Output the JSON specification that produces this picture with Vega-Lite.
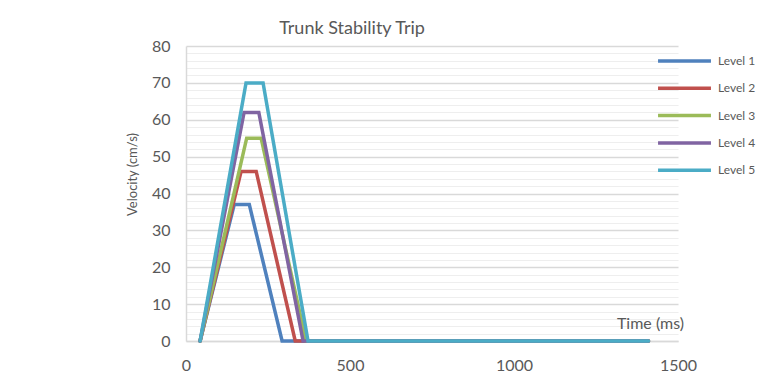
{
  "$schema": "https://vega.github.io/schema/vega-lite/v6.json",
  "autosize": {"type": "none"},
  "padding": {"left": 186, "top": 46, "right": 93, "bottom": 45},
  "width": 492,
  "height": 295,
  "background": "white",
  "title": {
    "text": "Trunk Stability Trip",
    "anchor": "middle",
    "dx": -80,
    "offset": 0,
    "font": "Lato",
    "fontSize": 18,
    "fontWeight": "normal",
    "color": "#595959"
  },
  "data": {
    "values": [
      {"level": "Level 1", "t": 43, "v": 0},
      {"level": "Level 1", "t": 147, "v": 37},
      {"level": "Level 1", "t": 193, "v": 37},
      {"level": "Level 1", "t": 293, "v": 0},
      {"level": "Level 1", "t": 1410, "v": 0},
      {"level": "Level 2", "t": 43, "v": 0},
      {"level": "Level 2", "t": 168, "v": 46},
      {"level": "Level 2", "t": 214, "v": 46},
      {"level": "Level 2", "t": 333, "v": 0},
      {"level": "Level 2", "t": 1410, "v": 0},
      {"level": "Level 3", "t": 43, "v": 0},
      {"level": "Level 3", "t": 185, "v": 55},
      {"level": "Level 3", "t": 229, "v": 55},
      {"level": "Level 3", "t": 366, "v": 0},
      {"level": "Level 3", "t": 1410, "v": 0},
      {"level": "Level 4", "t": 43, "v": 0},
      {"level": "Level 4", "t": 177, "v": 62},
      {"level": "Level 4", "t": 222, "v": 62},
      {"level": "Level 4", "t": 357, "v": 0},
      {"level": "Level 4", "t": 1410, "v": 0},
      {"level": "Level 5", "t": 43, "v": 0},
      {"level": "Level 5", "t": 183, "v": 70},
      {"level": "Level 5", "t": 235, "v": 70},
      {"level": "Level 5", "t": 372, "v": 0},
      {"level": "Level 5", "t": 1410, "v": 0}
    ]
  },
  "mark": {"type": "line", "strokeWidth": 3.5, "strokeJoin": "miter", "strokeCap": "round"},
  "encoding": {
    "x": {
      "field": "t",
      "type": "quantitative",
      "scale": {"domain": [0, 1500], "nice": false},
      "axis": {
        "values": [0, 500, 1000, 1500],
        "format": "d",
        "title": "Time (ms)",
        "titleX": 464,
        "titleY": -18,
        "titleAlign": "center",
        "titleBaseline": "middle",
        "titleFont": "Lato",
        "titleFontSize": 16,
        "titleFontWeight": "normal",
        "titleColor": "#595959",
        "grid": false,
        "ticks": false,
        "domain": true,
        "domainColor": "#d9d9d9",
        "domainWidth": 1.5,
        "labelFont": "Lato",
        "labelFontSize": 16,
        "labelColor": "#595959",
        "labelPadding": 16,
        "labelFlush": false
      }
    },
    "y": {
      "field": "v",
      "type": "quantitative",
      "scale": {"domain": [0, 80], "nice": false},
      "axis": {
        "values": [0, 2, 4, 6, 8, 10, 12, 14, 16, 18, 20, 22, 24, 26, 28, 30, 32, 34, 36, 38, 40, 42, 44, 46, 48, 50, 52, 54, 56, 58, 60, 62, 64, 66, 68, 70, 72, 74, 76, 78, 80],
        "labelExpr": "datum.value % 10 === 0 ? datum.label : ''",
        "title": "Velocity (cm/s)",
        "titleFont": "Lato",
        "titleFontSize": 13,
        "titleFontWeight": "normal",
        "titleColor": "#595959",
        "titlePadding": 12,
        "titleY": 128,
        "titleAlign": "center",
        "grid": true,
        "gridColor": {"condition": {"test": "datum.value % 10 === 0", "value": "#d9d9d9"}, "value": "#eeeeee"},
        "gridWidth": {"condition": {"test": "datum.value % 10 === 0", "value": 1.5}, "value": 1.2},
        "ticks": false,
        "domain": true,
        "domainColor": "#d9d9d9",
        "domainWidth": 1.5,
        "labelFont": "Lato",
        "labelFontSize": 16,
        "labelColor": "#595959",
        "labelPadding": 16
      }
    },
    "color": {
      "field": "level",
      "type": "nominal",
      "scale": {
        "domain": ["Level 1", "Level 2", "Level 3", "Level 4", "Level 5"],
        "range": ["#4F81BD", "#C0504D", "#9BBB59", "#8064A2", "#4BACC6"]
      },
      "legend": {
        "title": null,
        "orient": "none",
        "legendX": 470,
        "legendY": 8,
        "padding": 0,
        "symbolType": "stroke",
        "symbolSize": 2800,
        "symbolStrokeWidth": 3.5,
        "clipHeight": 14,
        "rowPadding": 13.3,
        "labelOffset": 5,
        "labelFont": "Lato",
        "labelFontSize": 12,
        "labelColor": "#595959"
      }
    }
  },
  "config": {
    "view": {"stroke": null}
  }
}
